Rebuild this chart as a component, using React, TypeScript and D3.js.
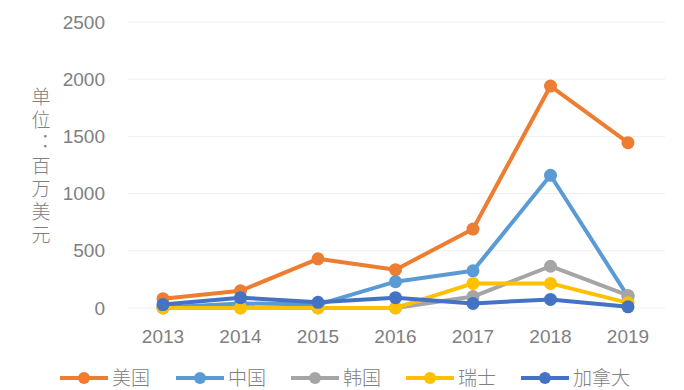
import React from "react";
import * as d3 from "d3";

const years = ["2013", "2014", "2015", "2016", "2017", "2018", "2019"];
const usa = [80, 150, 430, 335, 690, 1940, 1445];
const china = [5, 40, 30, 230, 325, 1160, 100];
const korea = [0, 0, 0, 0, 100, 365, 110];
const swiss = [0, 0, 0, 0, 215, 215, 45];
const canada = [30, 90, 50, 90, 40, 75, 10];
const yTicks = [0, 500, 1000, 1500, 2000, 2500];
const seriesNames = ["美国", "中国", "韩国", "瑞士", "加拿大"];
const seriesColors = ["#ED7D31", "#5B9BD5", "#A5A5A5", "#FFC000", "#4472C4"];
const axisTitle = "单位：百万美元";

export default function App() {
  const W = 684, H = 390;
  const x = d3.scalePoint<string>().domain(years).range([163, 628]);
  const y = d3.scaleLinear().domain([0, 2500]).range([308, 22]);
  const allSeries = [usa, china, korea, swiss, canada];
  const line = d3
    .line<number>()
    .x((_, i) => x(years[i]) as number)
    .y((v) => y(v));
  const font = "'Liberation Sans', 'Noto Sans', sans-serif";
  const cjk = "'Noto Sans CJK SC', sans-serif";
  const legendX = [60, 176, 291, 406, 521];
  const ly = 378;
  return (
    <svg width={W} height={H} style={{ position: "absolute", left: 0, top: 0, background: "#fff" }}>
      {yTicks.map((t) => (
        <g key={t}>
          <line x1={128} x2={665} y1={y(t)} y2={y(t)} stroke="#f0f0f0" strokeWidth={1} />
          <text x={105} y={y(t)} dy="0.35em" textAnchor="end" fontSize={19} fill="#808080" fontFamily={font}>
            {t}
          </text>
        </g>
      ))}
      {years.map((yr) => (
        <text key={yr} x={x(yr)} y={343} textAnchor="middle" fontSize={19} fill="#808080" fontFamily={font}>
          {yr}
        </text>
      ))}
      <text
        x={41}
        y={87}
        fontSize={19}
        fill="#808080"
        fontFamily={cjk}
        fontWeight={300}
        style={{ writingMode: "vertical-rl", letterSpacing: "4px" } as any}
      >
        {axisTitle}
      </text>
      {allSeries.map((s, si) => (
        <g key={si}>
          <path d={line(s) || ""} fill="none" stroke={seriesColors[si]} strokeWidth={4} strokeLinejoin="round" />
          {s.map((v, i) => (
            <circle key={i} cx={x(years[i])} cy={y(v)} r={6.5} fill={seriesColors[si]} />
          ))}
        </g>
      ))}
      {seriesNames.map((n, i) => (
        <g key={n}>
          <line x1={legendX[i]} x2={legendX[i] + 48} y1={ly} y2={ly} stroke={seriesColors[i]} strokeWidth={4} />
          <circle cx={legendX[i] + 24} cy={ly} r={6} fill={seriesColors[i]} />
          <text x={legendX[i] + 52} y={ly} dy="0.35em" fontSize={19} fill="#808080" fontFamily={cjk} fontWeight={300}>
            {n}
          </text>
        </g>
      ))}
    </svg>
  );
}
